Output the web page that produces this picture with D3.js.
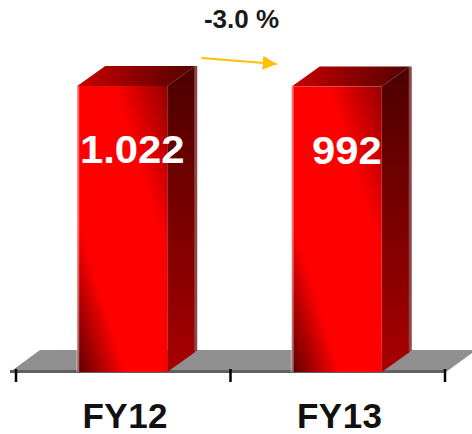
<!DOCTYPE html>
<meta charset="utf-8">
<script src="https://d3js.org/d3.v7.min.js"></script>
<style>
  body { margin: 0; background: #fff; }
  text { font-family: "Liberation Sans", Arial, sans-serif; font-weight: bold; }
</style>
<div id="chart"></div>
<script>
// data
var years = ["FY12", "FY13"];
var values = [1022, 992];
var valueLabels = ["1.022", "992"];
var changeLabel = "-3.0 %";

var width = 472, height = 434;
var dx = 28, dy = 20;       // depth of the 3d bars
var floorDx = 30, floorDy = 22;

var svg = d3.select("#chart").append("svg")
    .attr("width", width)
    .attr("height", height);

var x = d3.scaleBand()
    .domain(years)
    .range([16, 445]);

// the axis does not start at zero, bars look almost the same height
var y = d3.scaleLinear()
    .domain([-14000, 1022])
    .range([372, 86]);

var defs = svg.append("defs");
var front = defs.append("linearGradient").attr("id", "front")
    .attr("x1", 0).attr("y1", 1).attr("x2", 1).attr("y2", 0);
front.append("stop").attr("offset", 0).attr("stop-color", "#5a0000");
front.append("stop").attr("offset", 0.27).attr("stop-color", "#ff0000");
front.append("stop").attr("offset", 0.7).attr("stop-color", "#ff0000");
front.append("stop").attr("offset", 1).attr("stop-color", "#960000");

var side = defs.append("linearGradient").attr("id", "side")
    .attr("x1", 0).attr("y1", 0).attr("x2", 0).attr("y2", 1);
side.append("stop").attr("offset", 0).attr("stop-color", "#4c0000");
side.append("stop").attr("offset", 1).attr("stop-color", "#a80000");

var top3d = defs.append("linearGradient").attr("id", "top")
    .attr("x1", 0).attr("y1", 0).attr("x2", 1).attr("y2", 0);
top3d.append("stop").attr("offset", 0).attr("stop-color", "#c80000");
top3d.append("stop").attr("offset", 1).attr("stop-color", "#520000");

// floor
var r = x.range();
var base = y(y.domain()[0]);
svg.append("polygon")
    .attr("points", [
      [r[0] - 6, base], [r[1] + 1, base],
      [r[1] + 1 + floorDx, base - floorDy], [r[0] - 6 + floorDx, base - floorDy]
    ].join(" "))
    .attr("fill", "#8f8f8f");
svg.append("rect")
    .attr("x", r[0] - 6).attr("y", base - 2)
    .attr("width", r[1] - r[0] + 7).attr("height", 3)
    .attr("fill", "#606060");

// ticks at band edges
var tickX = years.map(function(d) { return x(d); }).concat([r[1]]);
svg.selectAll(".tick").data(tickX).enter().append("line")
    .attr("x1", function(d) { return d; })
    .attr("x2", function(d) { return d; })
    .attr("y1", base - 3).attr("y2", base + 10)
    .attr("stroke", "#000").attr("stroke-width", 2.5);

// bars
var bars = svg.selectAll(".bar").data(years).enter().append("g");

bars.each(function(d, i) {
  var g = d3.select(this);
  var xc = x(d) + x.bandwidth() / 2;
  var x0 = xc - 46, x1 = xc + 44;
  var yt = y(values[i]);

  // side
  g.append("polygon")
    .attr("points", [[x1, base], [x1 + dx, base - dy], [x1 + dx, yt - dy], [x1, yt]].join(" "))
    .attr("fill", "url(#side)");
  g.append("rect")
    .attr("x", x1 + dx - 1).attr("y", yt - dy)
    .attr("width", 3).attr("height", base - yt - 1)
    .attr("fill", "#8c4848");
  // top
  g.append("polygon")
    .attr("points", [[x0, yt], [x1, yt], [x1 + dx, yt - dy], [x0 + dx, yt - dy]].join(" "))
    .attr("fill", "url(#top)");
  // front
  g.append("rect")
    .attr("x", x0).attr("y", yt)
    .attr("width", x1 - x0).attr("height", base - yt)
    .attr("fill", "url(#front)");
  g.append("rect")
    .attr("x", x0 - 1).attr("y", yt)
    .attr("width", 3).attr("height", base - yt)
    .attr("fill", "#fff").attr("opacity", 0.4);

  g.append("text")
    .attr("transform", "translate(" + (xc + 9) + "," + (yt + 77) + ") scale(1.1,1)")
    .attr("text-anchor", "middle")
    .attr("font-size", 38)
    .attr("fill", "#fff")
    .text(valueLabels[i]);
});

// category labels
svg.selectAll(".cat").data(years).enter().append("text")
    .attr("x", function(d) { return x(d) + x.bandwidth() / 2 + 2; })
    .attr("y", 428)
    .attr("text-anchor", "middle")
    .attr("font-size", 35)
    .attr("letter-spacing", 0.5)
    .attr("fill", "#111")
    .text(function(d) { return d; });

// change annotation
var xMid = (x(years[0]) + x(years[1]) + x.bandwidth()) / 2;
svg.append("text")
    .attr("x", xMid + 11)
    .attr("y", 28)
    .attr("text-anchor", "middle")
    .attr("font-size", 26)
    .attr("fill", "#1a1a1a")
    .text(changeLabel);

defs.append("marker").attr("id", "head")
    .attr("viewBox", "0 0 10 10")
    .attr("refX", 10).attr("refY", 5)
    .attr("markerWidth", 7).attr("markerHeight", 7)
    .attr("markerUnits", "strokeWidth")
    .attr("orient", "auto")
  .append("path")
    .attr("d", "M0,0L10,5L0,10Z")
    .attr("fill", "#ffc000");

var yTop = y(values[0]) - dy;
svg.append("line")
    .attr("x1", x(years[0]) + x.bandwidth() / 2 + 44 + dx + 6)
    .attr("y1", yTop - 8)
    .attr("x2", x(years[1]) + x.bandwidth() / 2 - 46 - 15)
    .attr("y2", yTop - 2)
    .attr("stroke", "#ffc000")
    .attr("stroke-width", 2)
    .attr("marker-end", "url(#head)");
</script>
